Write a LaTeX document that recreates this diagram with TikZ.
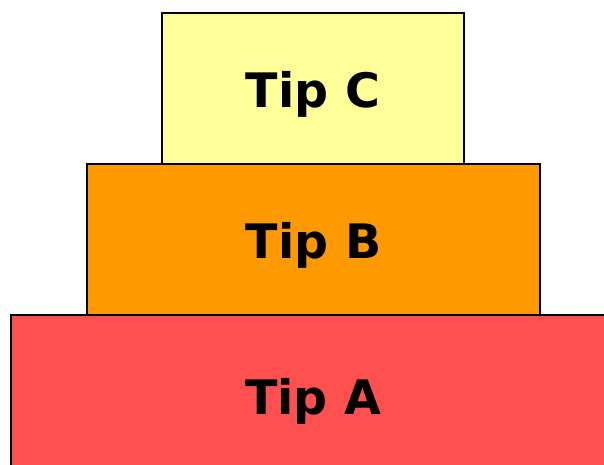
\documentclass[tikz,border=0pt]{standalone}
\usepackage{fontspec}
\setmainfont{DejaVu Sans}
\definecolor{tipC}{HTML}{FFFF99}
\definecolor{tipB}{HTML}{FF9900}
\definecolor{tipA}{HTML}{FF5050}
\newcommand{\tiptext}[1]{\raisebox{-2.5pt}{#1}}
\begin{document}
\begin{tikzpicture}[x=1pt,y=-1pt,
  tier/.style={draw=black,line width=1.3pt,rectangle,inner sep=0pt,text depth=0pt,
    font=\fontsize{47.5}{52}\selectfont\bfseries}]
\useasboundingbox (0,0) rectangle (604,464);
\clip (0,0) rectangle (604,464);
\node[tier,fill=tipA,minimum width=620pt,minimum height=180pt] (a) at (321,405) {};
\node[font=\fontsize{47.5}{52}\selectfont\bfseries,text depth=0pt,inner sep=0pt] (at) at (313,395) {\tiptext{Tip A}};
\node[tier,fill=tipB,minimum width=453pt,minimum height=151pt] (b) at (313.5,239.5) {\tiptext{Tip B}};
\node[tier,fill=tipC,minimum width=302pt,minimum height=151pt] (c) at (313,88.5) {\tiptext{Tip C}};
\end{tikzpicture}
\end{document}
